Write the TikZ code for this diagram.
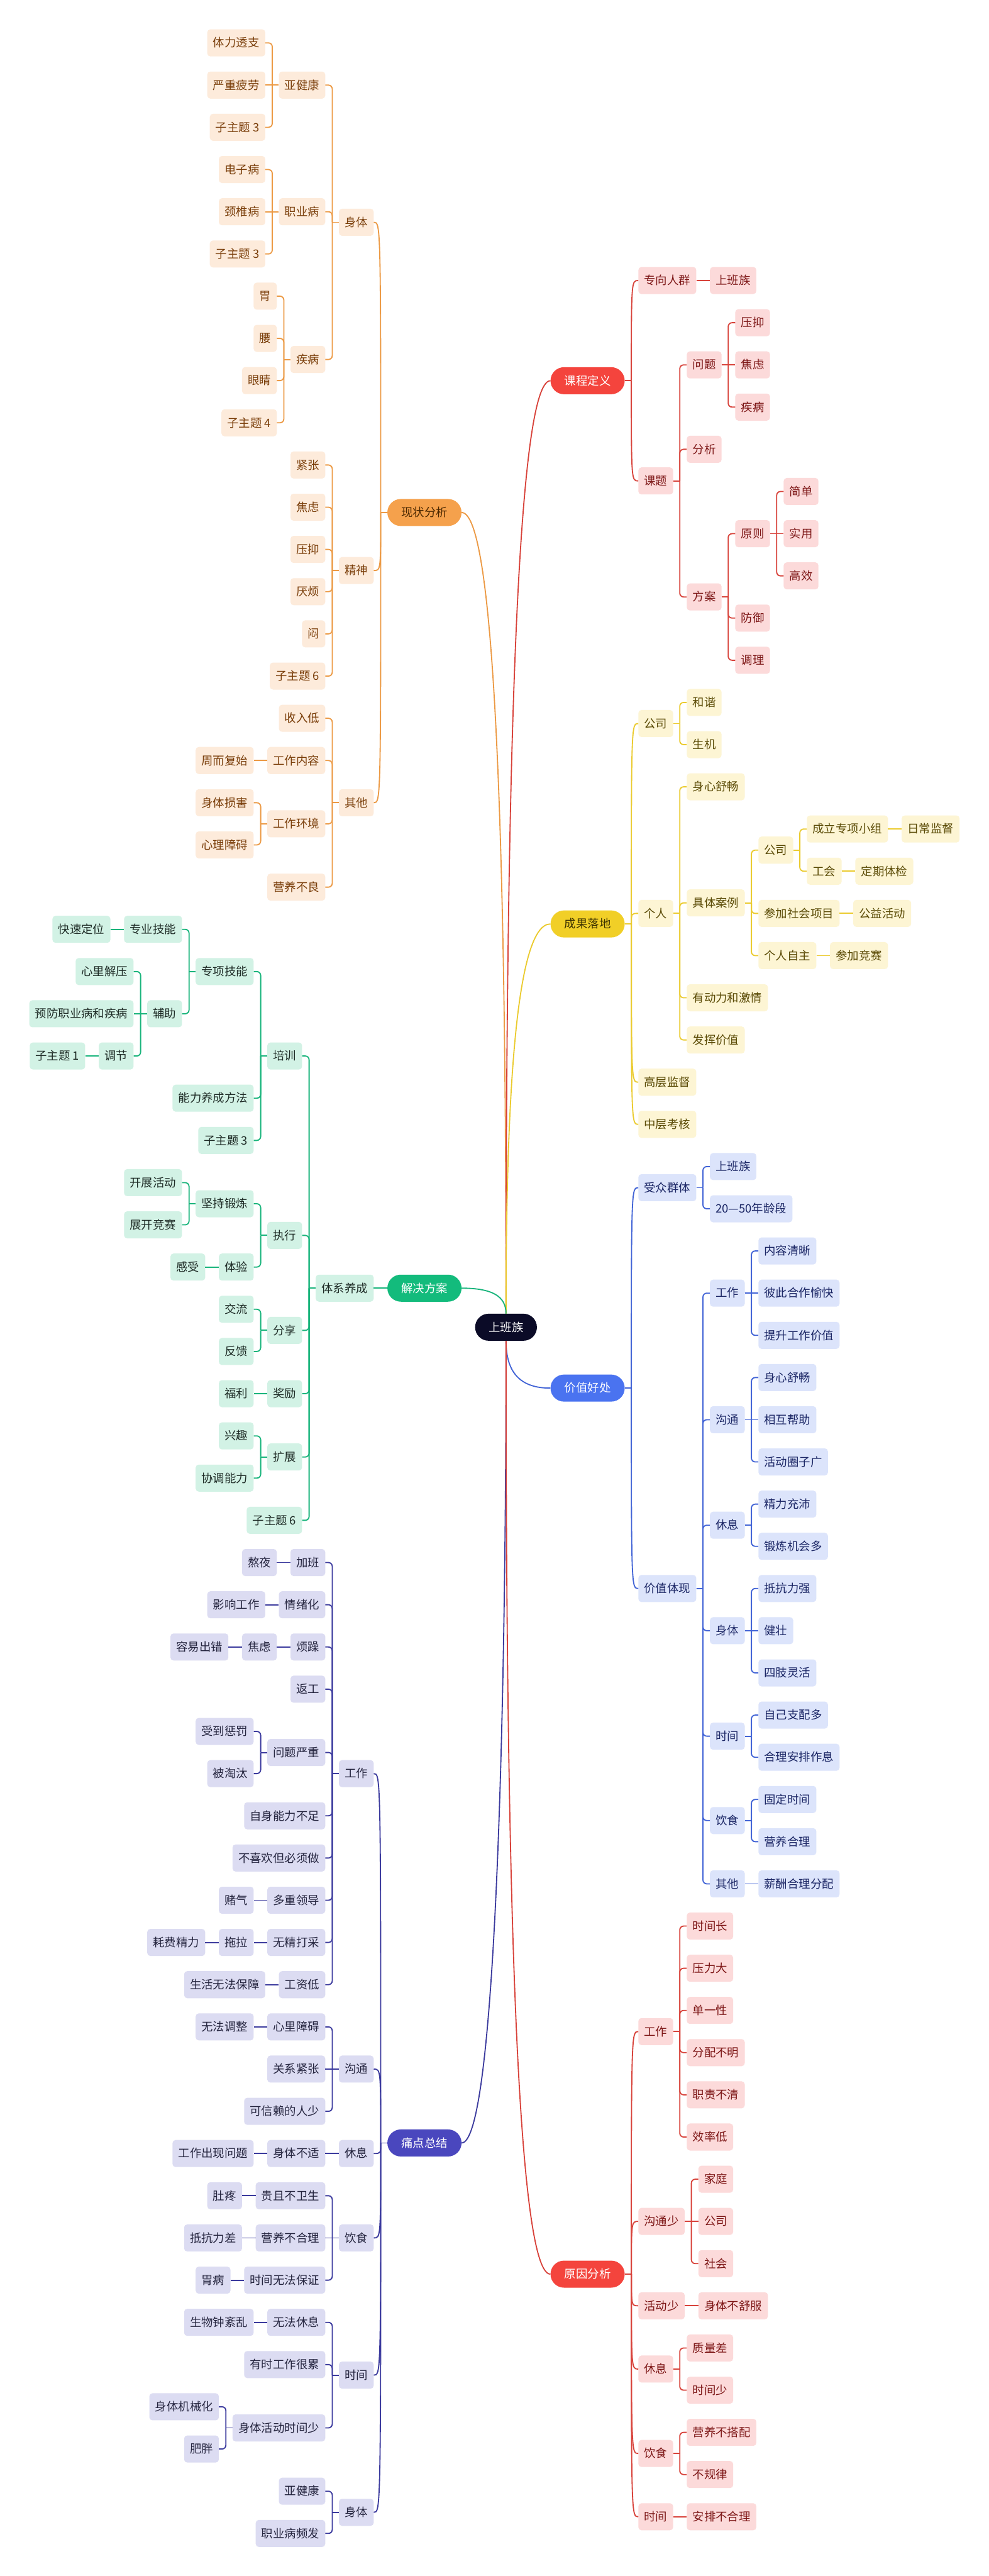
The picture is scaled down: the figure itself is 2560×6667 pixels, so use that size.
\documentclass[tikz,border=0pt]{standalone}
\usepackage{fontspec}
\setmainfont{Noto Sans CJK SC}
% colours: L line, F fill, T text, P pill fill, Q pill text
\definecolor{cLO}{HTML}{EC9A45}\definecolor{cFO}{HTML}{FDEBDB}\definecolor{cTO}{HTML}{7A3E0A}\definecolor{cPO}{HTML}{F5A14C}\definecolor{cQO}{HTML}{4A2700}
\definecolor{cLR}{HTML}{D8433B}\definecolor{cFR}{HTML}{FCDADA}\definecolor{cTR}{HTML}{7D1616}\definecolor{cPR}{HTML}{F4443D}\definecolor{cQR}{HTML}{FFFFFF}
\definecolor{cLY}{HTML}{EBCB2F}\definecolor{cFY}{HTML}{FDF5D4}\definecolor{cTY}{HTML}{5A4A05}\definecolor{cPY}{HTML}{F1CF27}\definecolor{cQY}{HTML}{3B3100}
\definecolor{cLB}{HTML}{4264D6}\definecolor{cFB}{HTML}{DCE4FB}\definecolor{cTB}{HTML}{1C2766}\definecolor{cPB}{HTML}{4A73F0}\definecolor{cQB}{HTML}{FFFFFF}
\definecolor{cLG}{HTML}{18B47B}\definecolor{cFG}{HTML}{D2F2E5}\definecolor{cTG}{HTML}{1E2B26}\definecolor{cPG}{HTML}{13BB7C}\definecolor{cQG}{HTML}{FFFFFF}
\definecolor{cLP}{HTML}{3C3B9E}\definecolor{cFP}{HTML}{DCDCF2}\definecolor{cTP}{HTML}{25253F}\definecolor{cPP}{HTML}{4A47BE}\definecolor{cQP}{HTML}{FFFFFF}
\definecolor{cRoot}{HTML}{0B0B27}
\tikzset{
  base/.style={inner ysep=0pt, minimum height=70pt, text height=26pt, text depth=4pt, font=\fontsize{30}{36}\selectfont},
  kid/.style={base, rounded corners=8pt, inner xsep=15pt},
  pill/.style={base, rounded corners=35pt, inner xsep=36pt},
  rootnode/.style={pill, inner xsep=35pt, fill=cRoot, text=white},
  nodeO/.style={kid, fill=cFO, text=cTO}, lineO/.style={draw=cLO, line width=3pt}, pillO/.style={pill, fill=cPO, text=cQO},
  nodeR/.style={kid, fill=cFR, text=cTR}, lineR/.style={draw=cLR, line width=3pt}, pillR/.style={pill, fill=cPR, text=cQR},
  nodeY/.style={kid, fill=cFY, text=cTY}, lineY/.style={draw=cLY, line width=3pt}, pillY/.style={pill, fill=cPY, text=cQY},
  nodeB/.style={kid, fill=cFB, text=cTB}, lineB/.style={draw=cLB, line width=3pt}, pillB/.style={pill, fill=cPB, text=cQB},
  nodeG/.style={kid, fill=cFG, text=cTG}, lineG/.style={draw=cLG, line width=3pt}, pillG/.style={pill, fill=cPG, text=cQG},
  nodeP/.style={kid, fill=cFP, text=cTP}, lineP/.style={draw=cLP, line width=3pt}, pillP/.style={pill, fill=cPP, text=cQP},
}
\newdimen\kiddiff
\newif\ifsamerow
% test whether node #1 and node #2 share their centre row
\newcommand\rowtest[2]{%
  \pgfpointanchor{#1}{center}\pgfgetlastxy{\kpx}{\kpy}%
  \pgfpointanchor{#2}{center}\pgfgetlastxy{\kcx}{\kcy}%
  \kiddiff=\dimexpr\kpy-\kcy\relax
  \ifdim\kiddiff<0pt \kiddiff=-\kiddiff\fi
  \ifdim\kiddiff<0.5pt \samerowtrue\else\samerowfalse\fi
}
% left child: name, parent, row, text, branch
\newcommand\lkid[5]{%
  \pgfmathsetmacro\rowy{111+109.25*(#3)}%
  \path (#2.west) ++(-35,0) coordinate (tmpa);
  \node[node#5,anchor=east] (#1) at (tmpa |- 0,\rowy) {#4};
  \rowtest{#2}{#1}%
  \ifsamerow
    \draw[line#5] (#2.west) -- (#1.east);
  \else
    \draw[line#5] (#2.west) -- ++(-17,0) coordinate (tmpb);
    \draw[line#5,rounded corners=10pt] (tmpb) |- (#1.east);
  \fi
}
\newcommand\lkidc[5]{%
  \pgfmathsetmacro\rowy{111+109.25*(#3)}%
  \path (#2.west) ++(-35,0) coordinate (tmpa);
  \node[node#5,anchor=east] (#1) at (tmpa |- 0,\rowy) {#4};
  \rowtest{#2}{#1}%
  \ifsamerow
    \draw[line#5] (#2.west) -- (#1.east);
  \else
    \draw[line#5] (#2.west) -- ++(-17,0) coordinate (tmpb);
    \draw[line#5] (tmpb) .. controls (tmpb |- #1.east) .. (#1.east);
  \fi
}
\newcommand\rkid[5]{%
  \pgfmathsetmacro\rowy{726+109.2*(#3)}%
  \path (#2.east) ++(35,0) coordinate (tmpa);
  \node[node#5,anchor=west] (#1) at (tmpa |- 0,\rowy) {#4};
  \rowtest{#2}{#1}%
  \ifsamerow
    \draw[line#5] (#2.east) -- (#1.west);
  \else
    \draw[line#5] (#2.east) -- ++(17,0) coordinate (tmpb);
    \draw[line#5,rounded corners=10pt] (tmpb) |- (#1.west);
  \fi
}
\newcommand\rkidc[5]{%
  \pgfmathsetmacro\rowy{726+109.2*(#3)}%
  \path (#2.east) ++(35,0) coordinate (tmpa);
  \node[node#5,anchor=west] (#1) at (tmpa |- 0,\rowy) {#4};
  \rowtest{#2}{#1}%
  \ifsamerow
    \draw[line#5] (#2.east) -- (#1.west);
  \else
    \draw[line#5] (#2.east) -- ++(17,0) coordinate (tmpb);
    \draw[line#5] (tmpb) .. controls (tmpb |- #1.west) .. (#1.west);
  \fi
}
\begin{document}
\begin{tikzpicture}[x=1pt,y=-1pt]
\fill[white] (0,0) rectangle (2560,6667);
\useasboundingbox (0,0) rectangle (2560,6667);

\node[rootnode] (root) at (1310,3435) {上班族};

% ===== 现状分析 (orange, left)
\node[pillO,anchor=east] (A0) at (1195,{111+109.25*11.125}) {现状分析};
\lkidc{A1}{A0}{4.25}{身体}{O}
\lkid{A11}{A1}{1}{亚健康}{O}
\lkid{A111}{A11}{0}{体力透支}{O}
\lkid{A112}{A11}{1}{严重疲劳}{O}
\lkid{A113}{A11}{2}{子主题 3}{O}
\lkid{A12}{A1}{4}{职业病}{O}
\lkid{A121}{A12}{3}{电子病}{O}
\lkid{A122}{A12}{4}{颈椎病}{O}
\lkid{A123}{A12}{5}{子主题 3}{O}
\lkid{A13}{A1}{7.5}{疾病}{O}
\lkid{A131}{A13}{6}{胃}{O}
\lkid{A132}{A13}{7}{腰}{O}
\lkid{A133}{A13}{8}{眼睛}{O}
\lkid{A134}{A13}{9}{子主题 4}{O}
\lkidc{A2}{A0}{12.5}{精神}{O}
\lkid{A21}{A2}{10}{紧张}{O}
\lkid{A22}{A2}{11}{焦虑}{O}
\lkid{A23}{A2}{12}{压抑}{O}
\lkid{A24}{A2}{13}{厌烦}{O}
\lkid{A25}{A2}{14}{闷}{O}
\lkid{A26}{A2}{15}{子主题 6}{O}
\lkidc{A3}{A0}{18}{其他}{O}
\lkid{A31}{A3}{16}{收入低}{O}
\lkid{A32}{A3}{17}{工作内容}{O}
\lkid{A321}{A32}{17}{周而复始}{O}
\lkid{A33}{A3}{18.5}{工作环境}{O}
\lkid{A331}{A33}{18}{身体损害}{O}
\lkid{A332}{A33}{19}{心理障碍}{O}
\lkid{A34}{A3}{20}{营养不良}{O}

% ===== 解决方案 (green, left)
\node[pillG,anchor=east] (F0) at (1195,{111+109.25*29.5}) {解决方案};
\lkidc{F1}{F0}{29.5}{体系养成}{G}
\lkid{F11}{F1}{24}{培训}{G}
\lkid{F111}{F11}{22}{专项技能}{G}
\lkid{F1111}{F111}{21}{专业技能}{G}
\lkid{F11111}{F1111}{21}{快速定位}{G}
\lkid{F1112}{F111}{23}{辅助}{G}
\lkid{F11121}{F1112}{22}{心里解压}{G}
\lkid{F11122}{F1112}{23}{预防职业病和疾病}{G}
\lkid{F11123}{F1112}{24}{调节}{G}
\lkid{F111231}{F11123}{24}{子主题 1}{G}
\lkid{F112}{F11}{25}{能力养成方法}{G}
\lkid{F113}{F11}{26}{子主题 3}{G}
\lkid{F12}{F1}{28.25}{执行}{G}
\lkid{F121}{F12}{27.5}{坚持锻炼}{G}
\lkid{F1211}{F121}{27}{开展活动}{G}
\lkid{F1212}{F121}{28}{展开竞赛}{G}
\lkid{F122}{F12}{29}{体验}{G}
\lkid{F1221}{F122}{29}{感受}{G}
\lkid{F13}{F1}{30.5}{分享}{G}
\lkid{F131}{F13}{30}{交流}{G}
\lkid{F132}{F13}{31}{反馈}{G}
\lkid{F14}{F1}{32}{奖励}{G}
\lkid{F141}{F14}{32}{福利}{G}
\lkid{F15}{F1}{33.5}{扩展}{G}
\lkid{F151}{F15}{33}{兴趣}{G}
\lkid{F152}{F15}{34}{协调能力}{G}
\lkid{F16}{F1}{35}{子主题 6}{G}

% ===== 痛点总结 (purple, left)
\node[pillP,anchor=east] (G0) at (1195,{111+109.25*49.75}) {痛点总结};
\lkidc{G1}{G0}{41}{工作}{P}
\lkid{G11}{G1}{36}{加班}{P}
\lkid{G111}{G11}{36}{熬夜}{P}
\lkid{G12}{G1}{37}{情绪化}{P}
\lkid{G121}{G12}{37}{影响工作}{P}
\lkid{G13}{G1}{38}{烦躁}{P}
\lkid{G131}{G13}{38}{焦虑}{P}
\lkid{G1311}{G131}{38}{容易出错}{P}
\lkid{G14}{G1}{39}{返工}{P}
\lkid{G15}{G1}{40.5}{问题严重}{P}
\lkid{G151}{G15}{40}{受到惩罚}{P}
\lkid{G152}{G15}{41}{被淘汰}{P}
\lkid{G16}{G1}{42}{自身能力不足}{P}
\lkid{G17}{G1}{43}{不喜欢但必须做}{P}
\lkid{G18}{G1}{44}{多重领导}{P}
\lkid{G181}{G18}{44}{赌气}{P}
\lkid{G19}{G1}{45}{无精打采}{P}
\lkid{G191}{G19}{45}{拖拉}{P}
\lkid{G1911}{G191}{45}{耗费精力}{P}
\lkid{G1a}{G1}{46}{工资低}{P}
\lkid{G1a1}{G1a}{46}{生活无法保障}{P}
\lkidc{G2}{G0}{48}{沟通}{P}
\lkid{G21}{G2}{47}{心里障碍}{P}
\lkid{G211}{G21}{47}{无法调整}{P}
\lkid{G22}{G2}{48}{关系紧张}{P}
\lkid{G23}{G2}{49}{可信赖的人少}{P}
\lkidc{G3}{G0}{50}{休息}{P}
\lkid{G31}{G3}{50}{身体不适}{P}
\lkid{G311}{G31}{50}{工作出现问题}{P}
\lkidc{G4}{G0}{52}{饮食}{P}
\lkid{G41}{G4}{51}{贵且不卫生}{P}
\lkid{G411}{G41}{51}{肚疼}{P}
\lkid{G42}{G4}{52}{营养不合理}{P}
\lkid{G421}{G42}{52}{抵抗力差}{P}
\lkid{G43}{G4}{53}{时间无法保证}{P}
\lkid{G431}{G43}{53}{胃病}{P}
\lkidc{G5}{G0}{55.25}{时间}{P}
\lkid{G51}{G5}{54}{无法休息}{P}
\lkid{G511}{G51}{54}{生物钟紊乱}{P}
\lkid{G52}{G5}{55}{有时工作很累}{P}
\lkid{G53}{G5}{56.5}{身体活动时间少}{P}
\lkid{G531}{G53}{56}{身体机械化}{P}
\lkid{G532}{G53}{57}{肥胖}{P}
\lkidc{G6}{G0}{58.5}{身体}{P}
\lkid{G61}{G6}{58}{亚健康}{P}
\lkid{G62}{G6}{59}{职业病频发}{P}

% ===== 课程定义 (red, right)
\node[pillR,anchor=west] (B0) at (1425,{726+109.2*2.375}) {课程定义};
\rkidc{B1}{B0}{0}{专向人群}{R}
\rkid{B11}{B1}{0}{上班族}{R}
\rkidc{B2}{B0}{4.75}{课题}{R}
\rkid{B21}{B2}{2}{问题}{R}
\rkid{B211}{B21}{1}{压抑}{R}
\rkid{B212}{B21}{2}{焦虑}{R}
\rkid{B213}{B21}{3}{疾病}{R}
\rkid{B22}{B2}{4}{分析}{R}
\rkid{B23}{B2}{7.5}{方案}{R}
\rkid{B231}{B23}{6}{原则}{R}
\rkid{B2311}{B231}{5}{简单}{R}
\rkid{B2312}{B231}{6}{实用}{R}
\rkid{B2313}{B231}{7}{高效}{R}
\rkid{B232}{B23}{8}{防御}{R}
\rkid{B233}{B23}{9}{调理}{R}

% ===== 成果落地 (yellow, right)
\node[pillY,anchor=west] (C0) at (1425,{726+109.2*15.25}) {成果落地};
\rkidc{C1}{C0}{10.5}{公司}{Y}
\rkid{C11}{C1}{10}{和谐}{Y}
\rkid{C12}{C1}{11}{生机}{Y}
\rkidc{C2}{C0}{15}{个人}{Y}
\rkid{C21}{C2}{12}{身心舒畅}{Y}
\rkid{C22}{C2}{14.75}{具体案例}{Y}
\rkid{C221}{C22}{13.5}{公司}{Y}
\rkid{C2211}{C221}{13}{成立专项小组}{Y}
\rkid{C22111}{C2211}{13}{日常监督}{Y}
\rkid{C2212}{C221}{14}{工会}{Y}
\rkid{C22121}{C2212}{14}{定期体检}{Y}
\rkid{C222}{C22}{15}{参加社会项目}{Y}
\rkid{C2221}{C222}{15}{公益活动}{Y}
\rkid{C223}{C22}{16}{个人自主}{Y}
\rkid{C2231}{C223}{16}{参加竞赛}{Y}
\rkid{C23}{C2}{17}{有动力和激情}{Y}
\rkid{C24}{C2}{18}{发挥价值}{Y}
\rkidc{C3}{C0}{19}{高层监督}{Y}
\rkidc{C4}{C0}{20}{中层考核}{Y}

% ===== 价值好处 (blue, right)
\node[pillB,anchor=west] (D0) at (1425,{726+109.2*26.25}) {价值好处};
\rkidc{D1}{D0}{21.5}{受众群体}{B}
\rkid{D11}{D1}{21}{上班族}{B}
\rkid{D12}{D1}{22}{20—50年龄段}{B}
\rkidc{D2}{D0}{31}{价值体现}{B}
\rkid{D21}{D2}{24}{工作}{B}
\rkid{D211}{D21}{23}{内容清晰}{B}
\rkid{D212}{D21}{24}{彼此合作愉快}{B}
\rkid{D213}{D21}{25}{提升工作价值}{B}
\rkid{D22}{D2}{27}{沟通}{B}
\rkid{D221}{D22}{26}{身心舒畅}{B}
\rkid{D222}{D22}{27}{相互帮助}{B}
\rkid{D223}{D22}{28}{活动圈子广}{B}
\rkid{D23}{D2}{29.5}{休息}{B}
\rkid{D231}{D23}{29}{精力充沛}{B}
\rkid{D232}{D23}{30}{锻炼机会多}{B}
\rkid{D24}{D2}{32}{身体}{B}
\rkid{D241}{D24}{31}{抵抗力强}{B}
\rkid{D242}{D24}{32}{健壮}{B}
\rkid{D243}{D24}{33}{四肢灵活}{B}
\rkid{D25}{D2}{34.5}{时间}{B}
\rkid{D251}{D25}{34}{自己支配多}{B}
\rkid{D252}{D25}{35}{合理安排作息}{B}
\rkid{D26}{D2}{36.5}{饮食}{B}
\rkid{D261}{D26}{36}{固定时间}{B}
\rkid{D262}{D26}{37}{营养合理}{B}
\rkid{D27}{D2}{38}{其他}{B}
\rkid{D271}{D27}{38}{薪酬合理分配}{B}

% ===== 原因分析 (red, right)
\node[pillR,anchor=west] (E0) at (1425,{726+109.2*47.25}) {原因分析};
\rkidc{E1}{E0}{41.5}{工作}{R}
\rkid{E11}{E1}{39}{时间长}{R}
\rkid{E12}{E1}{40}{压力大}{R}
\rkid{E13}{E1}{41}{单一性}{R}
\rkid{E14}{E1}{42}{分配不明}{R}
\rkid{E15}{E1}{43}{职责不清}{R}
\rkid{E16}{E1}{44}{效率低}{R}
\rkidc{E2}{E0}{46}{沟通少}{R}
\rkid{E21}{E2}{45}{家庭}{R}
\rkid{E22}{E2}{46}{公司}{R}
\rkid{E23}{E2}{47}{社会}{R}
\rkidc{E3}{E0}{48}{活动少}{R}
\rkid{E31}{E3}{48}{身体不舒服}{R}
\rkidc{E4}{E0}{49.5}{休息}{R}
\rkid{E41}{E4}{49}{质量差}{R}
\rkid{E42}{E4}{50}{时间少}{R}
\rkidc{E5}{E0}{51.5}{饮食}{R}
\rkid{E51}{E5}{51}{营养不搭配}{R}
\rkid{E52}{E5}{52}{不规律}{R}
\rkidc{E6}{E0}{53}{时间}{R}
\rkid{E61}{E6}{53}{安排不合理}{R}

% ===== root connectors
\draw[lineO] (A0.east) .. controls (1290,1326) and (1310,2363) .. (root.north);
\draw[lineR] (B0.west) .. controls (1330,985) and (1310,2190) .. (root.north);
\draw[lineY] (C0.west) .. controls (1330,2391) and (1310,2896) .. (root.north);
\draw[lineG] (F0.east) .. controls (1275,3334) and (1310,3355) .. (root.north);
\draw[lineB] (D0.west) .. controls (1345,3593) and (1310,3550) .. (root.south);
\draw[lineP] (G0.east) .. controls (1280,5546) and (1310,4500) .. (root.south);
\draw[lineR] (E0.west) .. controls (1330,5886) and (1310,4680) .. (root.south);
\end{tikzpicture}
\end{document}
